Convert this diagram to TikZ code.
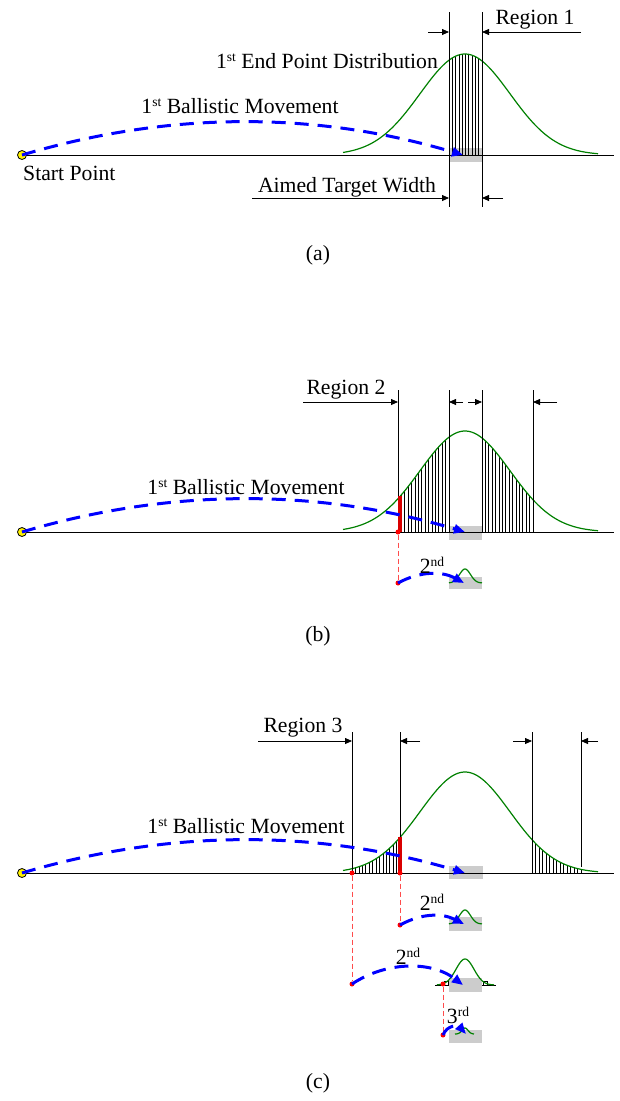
\documentclass[tikz,border=0pt]{standalone}
\usepackage{fontspec}
\setmainfont{Liberation Serif}
\usetikzlibrary{arrows.meta}
\newcommand\ordsup[1]{\raisebox{7pt}{\fontsize{13.5}{14}\selectfont #1}}

\begin{document}
\begin{tikzpicture}[x=1pt,y=-1pt,font=\fontsize{21.7}{25}\selectfont,
  declare function={g(\x)=exp(-((\x-465)/45)^2/2);},
  axisline/.style={line width=0.8pt},
  gauss/.style={draw=green!50!black,line width=1.2pt},
  hatchline/.style={line width=0.7pt},
  regionline/.style={line width=0.8pt},
  dimarrow/.style={line width=0.8pt,-{Triangle[length=7pt,width=6pt]}},
  ballistic/.style={blue,line width=3pt,dash pattern=on 14pt off 9pt,-{Triangle[length=11pt,width=9pt]}},
  drop/.style={red!70,line width=0.8pt,dash pattern=on 5pt off 3pt},
  redbar/.style={red!85!black,line width=3.5pt},
  target/.style={fill=black!20},
  reddot/.style={circle,fill=red,inner sep=0pt,minimum size=5pt},
  startpt/.style={circle,draw,fill=yellow,line width=0.8pt,inner sep=0pt,minimum size=9pt},
  lbl/.style={inner sep=0pt}]
  \useasboundingbox (0,0) rectangle (619,1101);

  % (a)
  \fill[target] (449,148) rectangle (482,162);
  \draw[axisline] (22,155) -- (614,155);
  \foreach \x in {449,452.3,...,482} \draw[hatchline] (\x,155) -- (\x,{155-101*g(\x)});
  \draw[gauss] plot[domain=343:598,samples=90] (\x,{155-101*g(\x)});
  \draw[regionline] (449,12) -- (449,207);
  \draw[regionline] (482,12) -- (482,207);
  \draw[dimarrow] (428,32) -- (449,32);
  \draw[dimarrow] (581,32) -- (482,32);
  \draw[dimarrow] (252,198) -- (449,198);
  \draw[dimarrow] (503,198) -- (482,198);
  \node[startpt] (sa) at (22,155) {};
  \draw[ballistic] (sa.center) .. controls +(148,-44) and +(-148,-44) .. (463,155);
  \node[lbl,anchor=west] (startlbl) at (23,173) {Start Point};
  \node[lbl] (balla) at (240,106) {1\ordsup{st} Ballistic Movement};
  \node[lbl] (distlbl) at (327,61) {1\ordsup{st} End Point Distribution};
  \node[lbl] (reg1) at (535,20) {Region 1};
  \node[lbl] (aimlbl) at (347,187) {Aimed Target Width};
  \node[lbl] (capa) at (318,255) {(a)};

  % (b)
  \fill[target] (449,526) rectangle (482,540);
  \draw[axisline] (22,532) -- (614,532);
  \foreach \x in {398,401.4,...,449} \draw[hatchline] (\x,532) -- (\x,{532-101*g(\x)});
  \foreach \x in {482,485.4,...,533} \draw[hatchline] (\x,532) -- (\x,{532-101*g(\x)});
  \draw[gauss] plot[domain=343:598,samples=90] (\x,{532-101*g(\x)});
  \foreach \x in {398,449,482,533} \draw[regionline] (\x,390) -- (\x,532);
  \draw[dimarrow] (303,402) -- (398,402);
  \draw[dimarrow] (463,402) -- (449,402);
  \draw[dimarrow] (468,402) -- (482,402);
  \draw[dimarrow] (557,402) -- (533,402);
  \draw[redbar] (400,532) -- (400,{532-101*g(400)});
  \node[reddot] (b1) at (398,532) {};
  \node[reddot] (b2) at (398,583) {};
  \draw[drop] (b1) -- (b2);
  \fill[target] (449,577) rectangle (482,589);
  \draw[gauss] plot[domain=449:482,samples=40] (\x,{583-14*exp(-((\x-465)/5.5)^2/2)});
  \node[startpt] (sb) at (22,532) {};
  \draw[ballistic] (sb.center) .. controls +(148,-44) and +(-148,-44) .. (465,532);
  \draw[ballistic] (b2.center) .. controls (420,571) and (442,571) .. (464,583);
  \node[lbl] (ballb) at (246,487) {1\ordsup{st} Ballistic Movement};
  \node[lbl] (reg2) at (346,390) {Region 2};
  \node[lbl] (nd2b) at (432,565) {2\ordsup{nd}};
  \node[lbl] (capb) at (318,636) {(b)};

  % (c)
  \fill[target] (449,866) rectangle (483,879);
  \draw[axisline] (22,873) -- (614,873);
  \foreach \x in {352,355.43,...,400} \draw[hatchline] (\x,873) -- (\x,{873-101*g(\x)});
  \foreach \x in {532,535.5,...,581} \draw[hatchline] (\x,873) -- (\x,{873-101*g(\x)});
  \draw[gauss] plot[domain=343:598,samples=90] (\x,{873-101*g(\x)});
  \foreach \x in {352,400,532} \draw[regionline] (\x,732) -- (\x,873);
  \draw[regionline] (581,732) -- (581,867);
  \draw[dimarrow] (258,741) -- (352,741);
  \draw[dimarrow] (420,741) -- (400,741);
  \draw[dimarrow] (513,741) -- (532,741);
  \draw[dimarrow] (598,741) -- (581,741);
  \draw[redbar] (400,873) -- (400,{873-101*g(400)});
  \node[reddot] (c1) at (352,873) {};
  \node[reddot] (c2) at (400,873) {};
  \node[reddot] (c3) at (400,925) {};
  \node[reddot] (c4) at (352,984) {};
  \draw[drop] (c2) -- (c3);
  \draw[drop] (c1) -- (c4);
  \node[startpt] (sc) at (22,873) {};
  \draw[ballistic] (sc.center) .. controls +(148,-44) and +(-148,-44) .. (465,873);
  \node[lbl] (ballc) at (246,826) {1\ordsup{st} Ballistic Movement};
  \node[lbl] (reg3) at (303,728) {Region 3};
  % 2nd from region edge
  \fill[target] (449,917) rectangle (482,931);
  \draw[gauss] plot[domain=449:482,samples=40] (\x,{924-14*exp(-((\x-465)/5.5)^2/2)});
  \draw[ballistic] (c3.center) .. controls (422,913) and (442,913) .. (464,924);
  \node[lbl] (nd2c) at (432,902) {2\ordsup{nd}};
  % 2nd from outer edge
  \draw[axisline] (435,985) -- (449,985);
  \draw[axisline] (482,985) -- (496,985);
  \fill[target] (449,978) rectangle (482,992);
  \draw[line width=0.6pt] (444,981) rectangle (448,985);
  \draw[line width=0.6pt] (483,981) rectangle (487,985);
  \draw[gauss] plot[domain=437:494,samples=50] (\x,{985-26*exp(-((\x-465)/9)^2/2)});
  \node[reddot] (c5) at (443,984) {};
  \node[reddot] (c6) at (443,1035) {};
  \draw[drop] (c5) -- (c6);
  \draw[ballistic] (c4.center) .. controls (385,962) and (430,960) .. (463,985);
  \node[lbl] (nd2d) at (408,956) {2\ordsup{nd}};
  % 3rd
  \fill[target] (449,1030) rectangle (482,1043);
  \draw[gauss] plot[domain=455:474,samples=30] (\x,{1034-6*exp(-((\x-465)/3)^2/2)});
  \draw[ballistic] (c6.center) .. controls (447,1025) and (458,1025) .. (466,1034);
  \node[lbl] (rd3) at (458,1015) {3\ordsup{rd}};
  \node[lbl] (capc) at (318,1083) {(c)};
\end{tikzpicture}
\end{document}
